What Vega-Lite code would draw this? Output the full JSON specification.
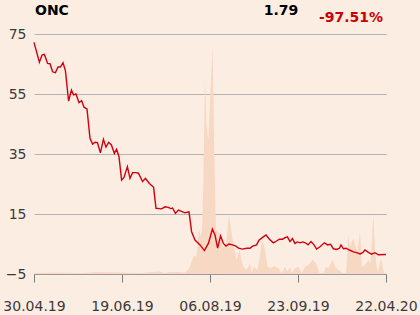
{
  "$schema": "https://vega.github.io/schema/vega-lite/v6.json",
  "width": 352,
  "height": 240,
  "autosize": {"type": "none"},
  "padding": {"left": 34, "top": 34, "right": 34, "bottom": 41},
  "background": "#fcede2",
  "config": {
    "view": {"stroke": null},
    "font": "DejaVu Sans"
  },
  "datasets": {
    "price": [
      {"i": 0, "p": 72.2}, {"i": 2.7, "p": 65.6}, {"i": 4, "p": 68}, {"i": 5.2, "p": 68.2}, {"i": 6.8, "p": 65.2},
      {"i": 8, "p": 65.1}, {"i": 9.3, "p": 62.4}, {"i": 10.7, "p": 62.1}, {"i": 12, "p": 64}, {"i": 13.2, "p": 64},
      {"i": 14.5, "p": 65.4}, {"i": 15.7, "p": 62.8}, {"i": 17.3, "p": 52.6}, {"i": 18.7, "p": 56.3}, {"i": 19.8, "p": 54.7},
      {"i": 21, "p": 55}, {"i": 22.5, "p": 52.1}, {"i": 23.8, "p": 52.8}, {"i": 25, "p": 50.6}, {"i": 26.5, "p": 50},
      {"i": 28, "p": 40.2}, {"i": 29.3, "p": 38.3}, {"i": 30.5, "p": 38.9}, {"i": 31.7, "p": 38.8}, {"i": 33.2, "p": 35.4},
      {"i": 34.7, "p": 39.9}, {"i": 36, "p": 37.3}, {"i": 37.3, "p": 38.9}, {"i": 38.7, "p": 38}, {"i": 40.2, "p": 35.2},
      {"i": 41.3, "p": 36.6}, {"i": 42.5, "p": 34.1}, {"i": 43.8, "p": 26.3}, {"i": 45, "p": 27.2}, {"i": 46.7, "p": 30.8},
      {"i": 48, "p": 26.9}, {"i": 49.3, "p": 28.8}, {"i": 50.8, "p": 28.8}, {"i": 52.2, "p": 28.6}, {"i": 54.3, "p": 25.8},
      {"i": 55.7, "p": 26.9}, {"i": 57.7, "p": 25.2}, {"i": 59.8, "p": 23.9}, {"i": 61, "p": 16.9}, {"i": 63.8, "p": 16.7},
      {"i": 65.5, "p": 17.4}, {"i": 67.2, "p": 17.2}, {"i": 68.3, "p": 16.8}, {"i": 69.3, "p": 17}, {"i": 70.7, "p": 15.2},
      {"i": 72.2, "p": 16.3}, {"i": 75.5, "p": 15.4}, {"i": 77.5, "p": 15.7}, {"i": 78.8, "p": 9.1}, {"i": 80.5, "p": 6.3},
      {"i": 83, "p": 4.7}, {"i": 85.2, "p": 2.8}, {"i": 87.2, "p": 5.2}, {"i": 89.2, "p": 10}, {"i": 90.5, "p": 8},
      {"i": 91.8, "p": 3.6}, {"i": 93.3, "p": 7.7}, {"i": 94.7, "p": 5.2}, {"i": 96, "p": 4.3}, {"i": 97.5, "p": 5},
      {"i": 99.3, "p": 4.7}, {"i": 101, "p": 4.3}, {"i": 102.3, "p": 3.6}, {"i": 104.3, "p": 3.3}, {"i": 106.3, "p": 3.6},
      {"i": 108, "p": 3.6}, {"i": 109.3, "p": 4.3}, {"i": 111.3, "p": 4.7}, {"i": 112.5, "p": 6.3}, {"i": 114.3, "p": 7.2},
      {"i": 116, "p": 8}, {"i": 117.7, "p": 6.6}, {"i": 119.7, "p": 5.4}, {"i": 121.3, "p": 6}, {"i": 122.7, "p": 6.6},
      {"i": 124.3, "p": 6.6}, {"i": 125.5, "p": 7.1}, {"i": 126.7, "p": 7.4}, {"i": 128, "p": 5.8}, {"i": 129.2, "p": 6.8},
      {"i": 130.5, "p": 5.2}, {"i": 131.7, "p": 5.7}, {"i": 133, "p": 5.4}, {"i": 134.3, "p": 5.7}, {"i": 135.7, "p": 5.4},
      {"i": 137, "p": 4.7}, {"i": 138.5, "p": 5.8}, {"i": 140, "p": 4.7}, {"i": 141.3, "p": 3.3}, {"i": 143, "p": 4.1},
      {"i": 145.2, "p": 5.4}, {"i": 146.7, "p": 4.7}, {"i": 148.3, "p": 4.9}, {"i": 149.7, "p": 3.4}, {"i": 151.3, "p": 3.2},
      {"i": 152.7, "p": 3.6}, {"i": 153.5, "p": 4.7}, {"i": 154.7, "p": 3.4}, {"i": 156, "p": 3.6}, {"i": 157.7, "p": 3},
      {"i": 159.7, "p": 2.4}, {"i": 161.3, "p": 2.1}, {"i": 163, "p": 1.7}, {"i": 164.3, "p": 2.1}, {"i": 165.5, "p": 3},
      {"i": 167.2, "p": 2.2}, {"i": 168.8, "p": 1.6}, {"i": 170.5, "p": 2.1}, {"i": 172.2, "p": 1.4}, {"i": 176, "p": 1.5}
    ],
    "vol": [
      {"i": 0, "v": 0.3}, {"i": 13, "v": 0.5}, {"i": 23, "v": 0.3}, {"i": 33, "v": 0.7}, {"i": 43, "v": 0.5},
      {"i": 53, "v": 0.3}, {"i": 63, "v": 0.8}, {"i": 65.5, "v": 0.3}, {"i": 68, "v": 0.7}, {"i": 72, "v": 0.7},
      {"i": 75.5, "v": 0.5}, {"i": 77, "v": 1.3}, {"i": 78, "v": 2.4}, {"i": 79.7, "v": 5.8}, {"i": 81.3, "v": 6},
      {"i": 82.5, "v": 15.2}, {"i": 83.3, "v": 12.4}, {"i": 84, "v": 14.7}, {"i": 84.7, "v": 31}, {"i": 85.5, "v": 65.8},
      {"i": 86.2, "v": 49.7}, {"i": 87.2, "v": 44.7}, {"i": 88, "v": 58}, {"i": 89.3, "v": 76}, {"i": 90.2, "v": 38},
      {"i": 91, "v": 14.7}, {"i": 92.7, "v": 13.6}, {"i": 94.3, "v": 9.1}, {"i": 96, "v": 10.2}, {"i": 97.5, "v": 19.7},
      {"i": 98.8, "v": 13.6}, {"i": 100.2, "v": 8}, {"i": 101.3, "v": 4.7}, {"i": 102.7, "v": 8}, {"i": 103.8, "v": 4.7},
      {"i": 104.7, "v": 2.4}, {"i": 106.3, "v": 1.3}, {"i": 108, "v": 3.6}, {"i": 108.8, "v": 0.3}, {"i": 110, "v": 2.4},
      {"i": 111.7, "v": 1.3}, {"i": 113, "v": 5.8}, {"i": 114, "v": 11.9}, {"i": 115.5, "v": 8}, {"i": 116.7, "v": 2.4},
      {"i": 118.3, "v": 1.9}, {"i": 120, "v": 2.7}, {"i": 122.2, "v": 1.9}, {"i": 123.8, "v": 0.3}, {"i": 125.5, "v": 2.4},
      {"i": 126.7, "v": 0.8}, {"i": 128, "v": 2.4}, {"i": 128.8, "v": 0.3}, {"i": 130.5, "v": 1.9}, {"i": 132.2, "v": 2.4},
      {"i": 133.8, "v": 0.3}, {"i": 135.5, "v": 2.4}, {"i": 137.2, "v": 3}, {"i": 139.3, "v": 4.7}, {"i": 141, "v": 3.6},
      {"i": 142.7, "v": 0.3}, {"i": 144.7, "v": 0.3}, {"i": 146, "v": 2.4}, {"i": 147.2, "v": 1.9}, {"i": 149.3, "v": 4.7},
      {"i": 150.5, "v": 2.4}, {"i": 152.2, "v": 1.3}, {"i": 154.3, "v": 0.3}, {"i": 156, "v": 0.3}, {"i": 157.2, "v": 13},
      {"i": 158, "v": 9.1}, {"i": 159.7, "v": 11.9}, {"i": 161, "v": 8.6}, {"i": 161.8, "v": 8}, {"i": 163, "v": 14.1},
      {"i": 164, "v": 2.4}, {"i": 165.5, "v": 3}, {"i": 167.2, "v": 4.7}, {"i": 168.3, "v": 3.6}, {"i": 169.7, "v": 20.2},
      {"i": 170.5, "v": 8}, {"i": 171.7, "v": 0.3}, {"i": 173.5, "v": 5.2}, {"i": 175, "v": 0.3}, {"i": 176, "v": 0.3}
    ],
    "labels": [
      {"name": "ONC", "last": "1.79", "change": "-97.51%"}
    ]
  },
  "layer": [
    {
      "data": {"name": "vol"},
      "mark": {"type": "area", "color": "#f7d8c3", "interpolate": "linear"},
      "encoding": {
        "x": {"field": "i", "type": "quantitative", "scale": {"domain": [0, 176], "nice": false, "zero": false},
          "axis": {"values": [0, 44, 88, 132, 176], "grid": false, "domain": true, "domainColor": "#9a9a9a", "tickColor": "#7a7a7a", "tickSize": 8, "labelFontSize": 14, "labelColor": "#3a3a3a", "labelPadding": 17, "labelOverlap": false, "labelBound": false, "labelFlush": false, "title": null,
            "labelExpr": "datum.value == 0 ? '30.04.19' : datum.value == 44 ? '19.06.19' : datum.value == 88 ? '06.08.19' : datum.value == 132 ? '23.09.19' : '22.04.20'"}},
        "y": {"field": "v", "type": "quantitative", "scale": {"domain": [0, 80], "nice": false}, "axis": null}
      }
    },
    {
      "layer": [
        {
          "data": {"name": "price"},
          "mark": {"type": "line", "color": "#d0000f", "strokeWidth": 1.4, "interpolate": "linear"},
          "encoding": {
            "x": {"field": "i", "type": "quantitative", "scale": {"domain": [0, 176], "nice": false, "zero": false}},
            "y": {"field": "p", "type": "quantitative", "scale": {"domain": [-5, 75], "nice": false, "zero": false},
              "axis": {"values": [-5, 15, 35, 55, 75], "grid": true, "gridColor": "#b3b3b3", "gridWidth": 1, "domain": false, "ticks": false, "labelFontSize": 14, "labelColor": "#3a3a3a", "labelPadding": 8, "title": null}}
          }
        },
        {
          "data": {"name": "labels"},
          "mark": {"type": "text", "fontSize": 14, "fontWeight": "bold", "color": "#000000", "align": "left", "baseline": "alphabetic"},
          "encoding": {
            "x": {"datum": 0.5, "type": "quantitative"},
            "y": {"datum": 81.3, "type": "quantitative"},
            "text": {"field": "name"}
          }
        },
        {
          "data": {"name": "labels"},
          "mark": {"type": "text", "fontSize": 14, "fontWeight": "bold", "color": "#000000", "align": "center", "baseline": "alphabetic"},
          "encoding": {
            "x": {"datum": 123.5, "type": "quantitative"},
            "y": {"datum": 81.5, "type": "quantitative"},
            "text": {"field": "last"}
          }
        },
        {
          "data": {"name": "labels"},
          "mark": {"type": "text", "fontSize": 14, "fontWeight": "bold", "color": "#cc0000", "align": "center", "baseline": "alphabetic"},
          "encoding": {
            "x": {"datum": 158.5, "type": "quantitative"},
            "y": {"datum": 79.1, "type": "quantitative"},
            "text": {"field": "change"}
          }
        }
      ]
    }
  ],
  "resolve": {"scale": {"y": "independent"}}
}
